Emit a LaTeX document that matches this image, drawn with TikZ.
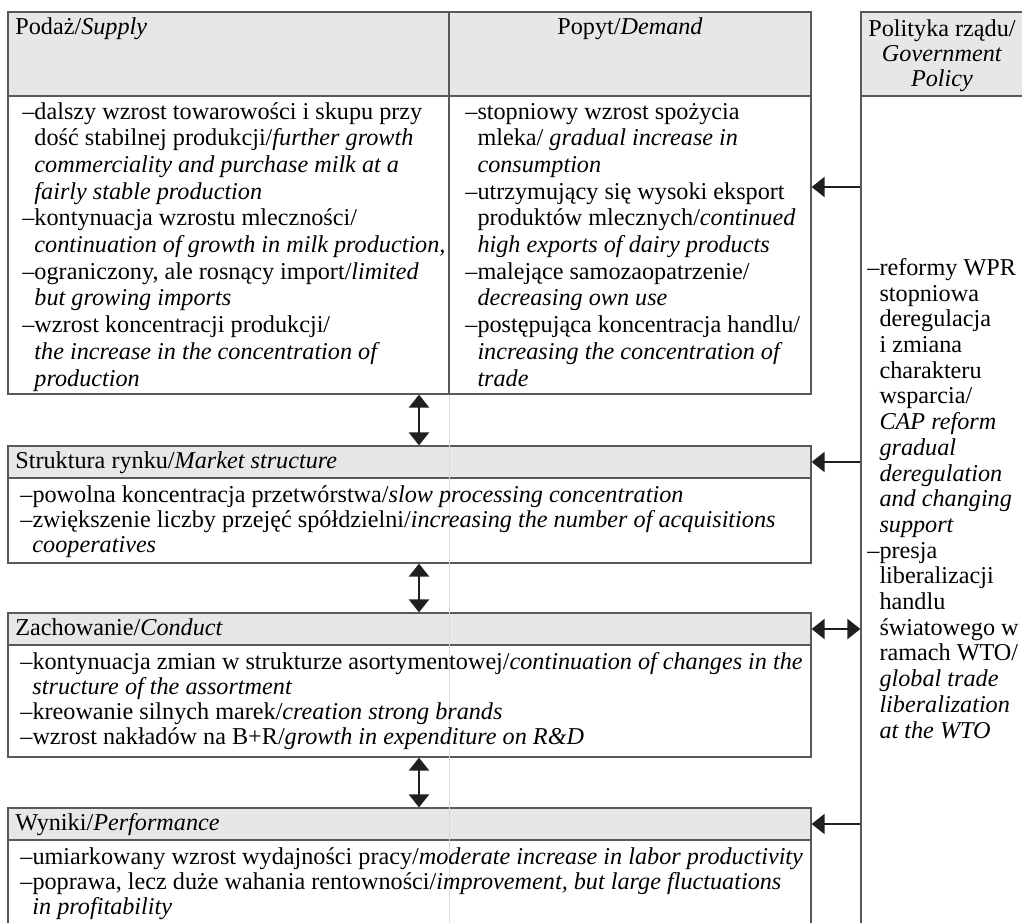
\documentclass[tikz,border=0pt]{standalone}
\usepackage{fontspec}
\setmainfont{Liberation Serif}
\usetikzlibrary{arrows.meta,fit}
\definecolor{boxgray}{HTML}{E6E7E8}
\definecolor{framegray}{HTML}{58595B}
\definecolor{arrowblack}{HTML}{231F20}
\newcommand{\itemdash}{\textendash}
\newcommand{\itemgap}{\hphantom{\textendash}}

\begin{document}
\begin{tikzpicture}[x=0.5pt,y=-0.5pt,
		hdr/.style={draw=framegray,fill=boxgray,line width=0.6pt,inner sep=0pt},
		cell/.style={draw=framegray,line width=0.6pt,inner sep=0pt},
		txt/.style={anchor=base west,align=left,inner sep=0pt,font={\fontsize{12.1}{13.35}\selectfont}},
		lowtxt/.style={txt,font={\fontsize{12.1}{12.5}\selectfont}},
		govtxt/.style={txt,font={\fontsize{12.1}{12.85}\selectfont}},
		link/.style={-{Triangle[length=6.5pt,width=10pt]},line width=1.1pt,draw=arrowblack},
		both/.style={{Triangle[length=6.5pt,width=10pt]}-{Triangle[length=6.5pt,width=10pt]},line width=1.1pt,draw=arrowblack},
		faint/.style={draw=black!15,line width=0.4pt}]
	\useasboundingbox (0,0) rectangle (1022,922);
	\clip (0,0) rectangle (1022,922);
	
	% boxes
	\node[hdr,fit={(8,12) (449,96)}] (suphdr) {};
	\node[hdr,fit={(449,12) (811,96)}] (demhdr) {};
	\node[cell,fit={(8,96) (449,394)}] (supbody) {};
	\node[cell,fit={(449,96) (811,394)}] (dembody) {};
	\node[hdr,fit={(8,446) (811,478)}] (strhdr) {};
	\node[cell,fit={(8,478) (811,563)}] (strbody) {};
	\node[hdr,fit={(8,613) (811,645)}] (conhdr) {};
	\node[cell,fit={(8,645) (811,757)}] (conbody) {};
	\node[hdr,fit={(8,808) (811,840)}] (perhdr) {};
	\node[cell,fit={(8,840) (811,940)}] (perbody) {};
	\node[hdr,fit={(861,12) (1040,96)}] (govhdr) {};
	\node[cell,fit={(861,96) (1040,940)}] (govbody) {};
	\draw[faint] (supbody.south east) -- (supbody.south east |- perbody.south);
	
	% texts (base = last line)
	\node[txt] (suptitle) at (15,34) {Podaż/\textit{Supply}};
	\node[txt,anchor=base] (demtitle) at (630,34) {Popyt/\textit{Demand}};
	\node[lowtxt,anchor=base,align=center] (govtitle) at (942,86) {Polityka rządu/\\\textit{Government}\\\textit{Policy}};
	\node[txt] (suplist) at (22,386) {\itemdash dalszy wzrost towarowości i skupu przy\\
		\itemgap dość stabilnej produkcji/\textit{further growth}\\
		\itemgap\textit{commerciality and purchase milk at a}\\
		\itemgap\textit{fairly stable production}\\
		\itemdash kontynuacja wzrostu mleczności/\\
		\itemgap\textit{continuation of growth in milk production,}\\
		\itemdash ograniczony, ale rosnący import/\textit{limited}\\
		\itemgap\textit{but growing imports}\\
		\itemdash wzrost koncentracji produkcji/\\
		\itemgap\textit{the increase in the concentration of}\\
		\itemgap\textit{production}};
	\node[txt] (demlist) at (465,386) {\itemdash stopniowy wzrost spożycia\\
		\itemgap mleka/ \textit{gradual increase in}\\
		\itemgap\textit{consumption}\\
		\itemdash utrzymujący się wysoki eksport\\
		\itemgap produktów mlecznych/\textit{continued}\\
		\itemgap\textit{high exports of dairy products}\\
		\itemdash malejące samozaopatrzenie/\\
		\itemgap\textit{decreasing own use}\\
		\itemdash postępująca koncentracja handlu/\\
		\itemgap\textit{increasing the concentration of}\\
		\itemgap\textit{trade}};
	\node[lowtxt] (strtitle) at (15,468) {Struktura rynku/\textit{Market structure}};
	\node[lowtxt] (strlist) at (20,552) {\itemdash powolna koncentracja przetwórstwa/\textit{slow processing concentration}\\
		\itemdash zwiększenie liczby przejęć spółdzielni/\textit{increasing the number of acquisitions}\\
		\itemgap\textit{cooperatives}};
	\node[lowtxt] (contitle) at (15,635) {Zachowanie/\textit{Conduct}};
	\node[lowtxt] (conlist) at (20,744) {\itemdash kontynuacja zmian w strukturze asortymentowej/\textit{continuation of changes in the}\\
		\itemgap\textit{structure of the assortment}\\
		\itemdash kreowanie silnych marek/\textit{creation strong brands}\\
		\itemdash wzrost nakładów na B+R/\textit{growth in expenditure on R\&D}};
	\node[lowtxt] (pertitle) at (15,830) {Wyniki/\textit{Performance}};
	\node[lowtxt] (perlist) at (20,914) {\itemdash umiarkowany wzrost wydajności pracy/\textit{moderate increase in labor productivity}\\
		\itemdash poprawa, lecz duże wahania rentowności/\textit{improvement, but large fluctuations}\\
		\itemgap\textit{in profitability}};
	\node[govtxt] (govlist) at (867,738) {\itemdash reformy WPR\\
		\itemgap stopniowa\\
		\itemgap deregulacja\\
		\itemgap i zmiana\\
		\itemgap charakteru\\
		\itemgap wsparcia/\\
		\itemgap\textit{CAP reform}\\
		\itemgap\textit{gradual}\\
		\itemgap\textit{deregulation}\\
		\itemgap\textit{and changing}\\
		\itemgap\textit{support}\\
		\itemdash presja\\
		\itemgap liberalizacji\\
		\itemgap handlu\\
		\itemgap światowego w\\
		\itemgap ramach WTO/\\
		\itemgap\textit{global trade}\\
		\itemgap\textit{liberalization}\\
		\itemgap\textit{at the WTO}};
	
	% arrows
	\coordinate (ax) at (419,0);
	\coordinate (supin) at ([yshift=29pt]dembody.east);
	\draw[both] (supbody.south -| ax) -- (strhdr.north -| ax);
	\draw[both] (strbody.south -| ax) -- (conhdr.north -| ax);
	\draw[both] (conbody.south -| ax) -- (perhdr.north -| ax);
	\draw[link] (supin -| govbody.west) -- (supin);
	\draw[link] (strhdr.east -| govbody.west) -- (strhdr.east);
	\draw[both] (conhdr.east) -- (conhdr.east -| govbody.west);
	\draw[link] (perhdr.east -| govbody.west) -- (perhdr.east);
\end{tikzpicture}
\end{document}
